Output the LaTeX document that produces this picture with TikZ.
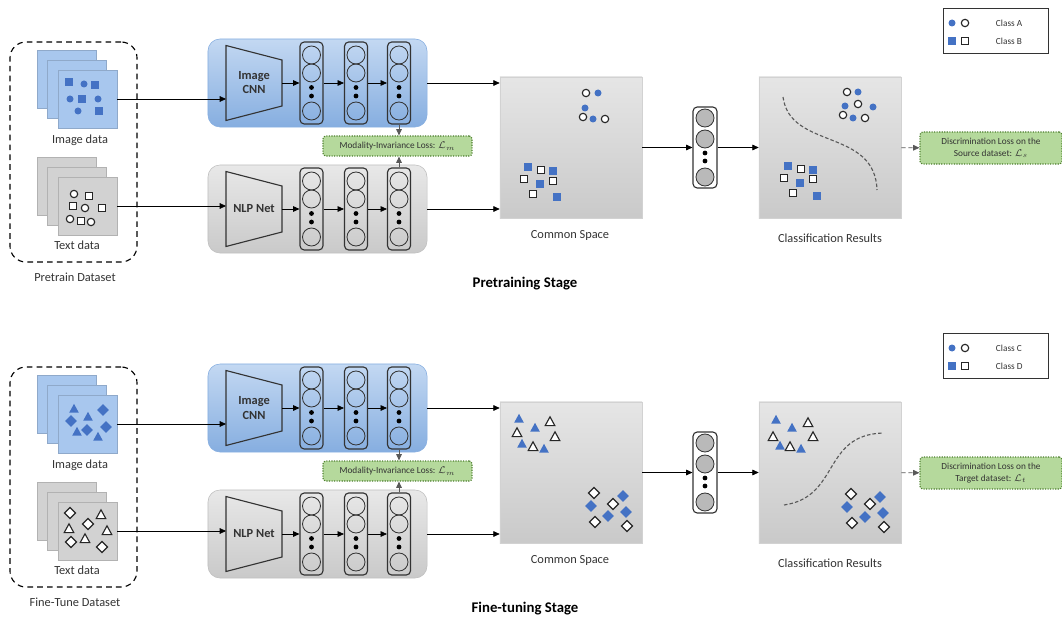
\documentclass[tikz,border=0pt]{standalone}
\usepackage{fontspec}
\setmainfont{Carlito}
\usetikzlibrary{arrows.meta,positioning}

\definecolor{dotblue}{HTML}{4472C4}
\definecolor{boxblueA}{HTML}{C3D8F2}
\definecolor{boxblueB}{HTML}{86AEE0}
\definecolor{sheetblue}{HTML}{A8C7EE}
\definecolor{sheetgray}{HTML}{D2D2D2}
\definecolor{lossgreen}{HTML}{B5D99C}
\definecolor{lossedge}{HTML}{4E7F2F}
\definecolor{txtgray}{HTML}{333333}

\tikzset{
  >={Triangle[length=4.5pt,width=4pt]},
  every node/.style={font=\fontsize{8.8}{10}\selectfont, text=txtgray},
  flow/.style={->, line width=0.5pt},
  dflow/.style={->, line width=0.6pt, densely dashed, black!65},
  dataset/.style={draw, line width=0.8pt, dash pattern=on 4pt off 3pt, rounded corners=0.4cm,
    minimum width=3.175cm, minimum height=5.5cm},
  sheet/.style={minimum width=1.475cm, minimum height=1.45cm, fill=#1, draw=#1!85!black},
  netbox/.style={minimum width=5.475cm, minimum height=2.2cm, rounded corners=0.3cm},
  imgbox/.style={top color=boxblueA, bottom color=boxblueB, draw=boxblueB},
  nlpbox/.style={top color=gray!18, bottom color=gray!42, draw=gray!50},
  trap/.style={draw=black!80, line width=0.8pt},
  netlbl/.style={font=\bfseries\fontsize{8.8}{10}\selectfont, align=center},
  col/.style={draw=black!80, line width=0.8pt, rounded corners=3pt, minimum width=0.575cm, minimum height=2.05cm},
  unit/.style={draw=black!80, line width=0.6pt},
  loss/.style={draw=lossedge, densely dotted, line width=0.8pt, fill=lossgreen, rounded corners=2pt,
    font=\fontsize{6.6}{8}\selectfont, align=center, minimum width=3.725cm, minimum height=0.5cm, inner sep=1pt},
  space/.style={minimum width=3.55cm, minimum height=3.525cm, top color=gray!20, bottom color=gray!42, draw=gray!35},
  head/.style={draw=black!80, line width=0.8pt, rounded corners=3pt, fill=white, minimum width=0.6cm, minimum height=2.025cm},
  legend/.style={draw=black!80, line width=0.6pt, minimum width=2.625cm, minimum height=1.125cm},
  keytext/.style={font=\fontsize{6.6}{8}\selectfont, anchor=west},
  ring/.style={draw=black!85, fill=white, line width=0.8pt},
  split/.style={dash pattern=on 2.5pt off 1.5pt, line width=0.8pt, black!65},
}

% scatter marks
\newcommand{\mdot}[1]{\fill[dotblue] #1 circle (3.5);}
\newcommand{\mring}[1]{\draw[ring] #1 circle (3.7);}
\newcommand{\msq}[1]{\fill[dotblue] #1 ++(-4,-4) rectangle ++(8,8);}
\newcommand{\mosq}[1]{\draw[ring] #1 ++(-3.8,-3.8) rectangle ++(7.6,7.6);}
\newcommand{\mtri}[1]{\fill[dotblue] #1 ++(0,-5.2) -- ++(4.8,8.8) -- ++(-9.6,0) -- cycle;}
\newcommand{\motri}[1]{\draw[ring] #1 ++(0,-5.2) -- ++(4.8,8.8) -- ++(-9.6,0) -- cycle;}
\newcommand{\mdia}[1]{\fill[dotblue] #1 ++(0,-5.8) -- ++(5.8,5.8) -- ++(-5.8,5.8) -- ++(-5.8,-5.8) -- cycle;}
\newcommand{\modia}[1]{\draw[ring] #1 ++(0,-5.5) -- ++(5.5,5.5) -- ++(-5.5,5.5) -- ++(-5.5,-5.5) -- cycle;}

% one encoder: box, trapezoid and three layers
\newcommand{\netrow}[4]{%
  \node[netbox, #3] (#1box) at (317.5,#2) {};
  \draw[trap] (226,{#2-37.5}) -- (282,{#2-23}) -- (282,{#2+23}) -- (226,{#2+37.5}) -- cycle;
  \node[netlbl] (#1) at (254,#2) {#4};
  \coordinate (#1in) at (226,#2);
  \coordinate (#1out) at (282,#2);
  \foreach \cx [count=\i] in {311.5,356,399} {
    \node[col] (#1col\i) at (\cx,#2) {};
    \foreach \dy in {-28,-10,28} {\draw[unit] (\cx,{#2+(\dy)}) circle (9);}
    \foreach \dy in {4.5,13} {\fill (\cx,{#2+\dy}) circle (2.4);}
  }
  \draw[flow] (#1out) -- (#1col1);
  \draw[flow] (#1col1) -- (#1col2);
  \draw[flow] (#1col2) -- (#1col3);
}

% a whole stage: data, encoders, common space, classifier, losses, key
\newcommand{\stage}[6]{%
  \node[dataset] (#1set) at (73.5,152) {};
  \node (#1setlbl) at (75,277) {#2};
  \foreach \d/\n in {2/3,1/2,0/1} {
    \node[sheet=sheetblue] (#1img\n) at ({87.5-10.5*\d},{99-10*\d}) {};
    \node[sheet=sheetgray] (#1txt\n) at ({87.5-10.5*\d},{206-10*\d}) {};
  }
  \node (#1imglbl) at (80,140) {Image data};
  \node (#1txtlbl) at (77,245) {Text data};
  \netrow{#1cnn}{83}{imgbox}{Image\\CNN}
  \netrow{#1nlp}{209}{nlpbox}{NLP Net}
  \draw[flow] (#1img1) -- (#1img1 -| #1cnnin);
  \draw[flow] (#1txt1) -- (#1txt1 -| #1nlpin);
  \node[loss] (#1loss) at (397.5,146) {Modality-Invariance Loss: $\mathcal{L}_m$};
  \draw[dflow] (#1cnncol3.south) -- (#1cnncol3.south |- #1loss.north);
  \draw[dflow] (#1nlpcol3.north) -- (#1nlpcol3.north |- #1loss.south);
  \node[space] (#1space) at (571,147.5) {};
  \node (#1spacelbl) at (570,235) {Common Space};
  \draw[flow] (#1cnnbox) -- (#1cnnbox -| #1space.west);
  \draw[flow] (#1nlpbox) -- (#1nlpbox -| #1space.west);
  \node[head] (#1head) at (705,147.5) {};
  \foreach \dy in {-29.5,-8.5,29.5} {\draw[unit, fill=gray!55] (705,{147.5+(\dy)}) circle (9);}
  \foreach \dy in {5.5,13.5} {\fill (705,{147.5+\dy}) circle (2.4);}
  \node[space] (#1res) at (830,147.5) {};
  \node (#1reslbl) at (830,238) {Classification Results};
  \draw[flow] (#1space) -- (#1head);
  \draw[flow] (#1head) -- (#1res);
  \node[loss, minimum width=3.55cm, minimum height=0.8cm] (#1disc) at (991,148)
    {Discrimination Loss on the\\#3};
  \draw[dflow] (#1res) -- (#1disc);
  \node[legend] (#1key) at (995.5,30.5) {};
  \mdot{(952,23)} \mring{(965,23)}
  \msq{(952,41)} \mosq{(965,41)}
  \node[keytext] (#1keyA) at (991,23) {#4};
  \node[keytext] (#1keyB) at (991,41) {#5};
  \node[font=\bfseries\fontsize{10.5}{12}\selectfont, text=black] (#1title) at (525,284) {#6};
}

\begin{document}
\begin{tikzpicture}[x=0.025cm, y=-0.025cm]
\useasboundingbox (0,0) rectangle (1062,623);

% pretraining
\stage{pre}{Pretrain Dataset}{Source dataset: $\mathcal{L}_s$}{Class A}{Class B}{Pretraining Stage}
\foreach \p in {(84,84),(70,99),(98,99),(78,111)} {\mdot{\p}}
\foreach \p in {(69,82),(95,85),(82,99),(99,111)} {\msq{\p}}
\foreach \p in {(74,194),(85,208),(70,219),(91,222)} {\mring{\p}}
\foreach \p in {(89,196),(73,206),(102,208),(81,221)} {\mosq{\p}}
% common space
\foreach \p in {(598,93),(585,108),(593,119)} {\mdot{\p}}
\foreach \p in {(586,93),(583,117),(605,119)} {\mring{\p}}
\foreach \p in {(528,167),(553,171),(540,184),(557,197)} {\msq{\p}}
\foreach \p in {(541,170),(524,179),(553,181),(533,194)} {\mosq{\p}}
% classified
\draw[split] (783,97) .. controls (790,150) and (875,128) .. (877,190);
\foreach \p in {(858,92),(845,106),(873,107),(853,118)} {\mdot{\p}}
\foreach \p in {(847,92),(858,104),(843,115),(865,118)} {\mring{\p}}
\foreach \p in {(788,166),(813,170),(800,183),(817,196)} {\msq{\p}}
\foreach \p in {(801,169),(784,178),(813,179),(793,193)} {\mosq{\p}}

% fine-tuning
\begin{scope}[shift={(0,325)}]
\stage{ft}{Fine-Tune Dataset}{Target dataset: $\mathcal{L}_t$}{Class C}{Class D}{Fine-tuning Stage}
\foreach \p in {(74,84),(88,92),(77,107),(98,112)} {\mtri{\p}}
\foreach \p in {(103,85),(71,96),(106,102),(87,105)} {\mdia{\p}}
\foreach \p in {(101,190),(69,204),(107,206),(85,214)} {\motri{\p}}
\foreach \p in {(70,188),(88,199),(71,217),(102,222)} {\modia{\p}}
% common space
\foreach \p in {(519,94),(535,103),(522,119),(544,124)} {\mtri{\p}}
\foreach \p in {(550,97),(517,108),(555,112),(533,122)} {\motri{\p}}
\foreach \p in {(623,171),(591,181),(626,187),(608,191)} {\mdia{\p}}
\foreach \p in {(594,168),(613,179),(595,197),(627,201)} {\modia{\p}}
% classified
\draw[split] (784,180) .. controls (840,172) and (822,110) .. (883,108);
\foreach \p in {(776,95),(792,103),(780,121),(801,124)} {\mtri{\p}}
\foreach \p in {(808,98),(773,112),(813,112),(790,122)} {\motri{\p}}
\foreach \p in {(880,172),(847,182),(883,188),(865,192)} {\mdia{\p}}
\foreach \p in {(851,169),(870,179),(852,198),(884,202)} {\modia{\p}}
\end{scope}
\end{tikzpicture}
\end{document}
